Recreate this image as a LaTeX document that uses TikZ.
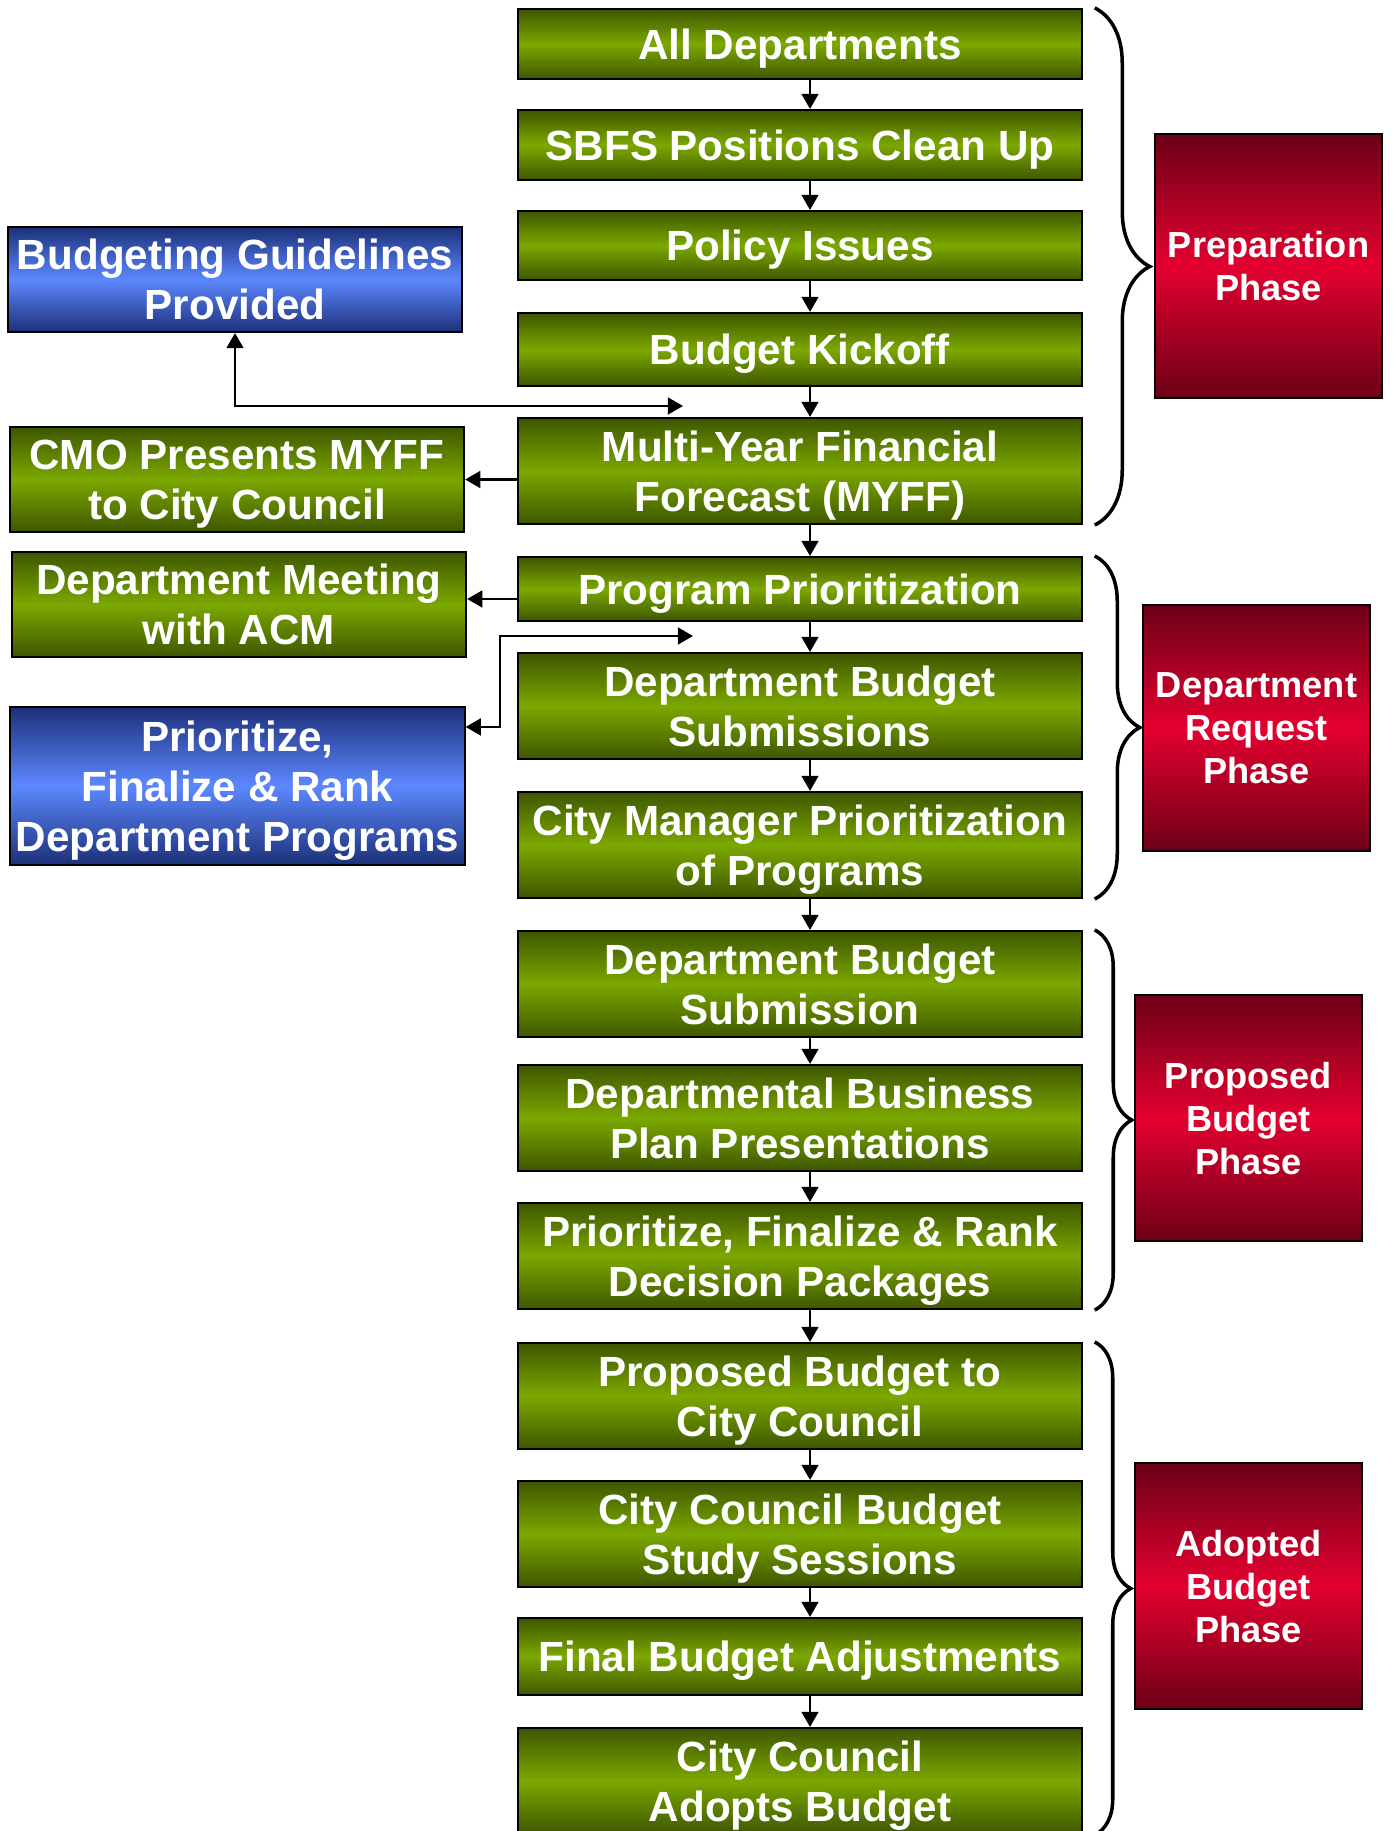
\documentclass[tikz,border=0pt]{standalone}
\usepackage{fontspec}
\setmainfont{Liberation Sans}
\usepackage{tikz}
\usetikzlibrary{arrows.meta, decorations.pathreplacing}

\definecolor{olivedark}{RGB}{62,86,0}
\definecolor{olivemid}{RGB}{124,168,0}
\definecolor{bluedark}{RGB}{28,48,120}
\definecolor{bluemid}{RGB}{92,136,255}
\definecolor{reddark}{RGB}{108,0,22}
\definecolor{redmid}{RGB}{228,0,48}

\begin{document}
\begin{tikzpicture}[x=0.01cm, y=-0.01cm,
    >={Triangle[length=4.3pt,width=4.8pt]},
    box/.style={draw=black, line width=0.6pt, align=center, text=white, inner sep=0pt,
        font=\bfseries\fontsize{12}{14.2}\selectfont, text depth=0pt},
    stage/.style={box, minimum width=5.63cm,
        top color=olivedark, bottom color=olivedark, middle color=olivemid},
    note/.style={box, minimum width=4.54cm,
        top color=bluedark, bottom color=bluedark, middle color=bluemid},
    phase/.style={box, minimum width=2.27cm, font=\bfseries\fontsize{10.3}{12.2}\selectfont,
        top color=reddark, bottom color=reddark, middle color=redmid},
    flow/.style={->, line width=0.6pt},
    both/.style={<->, line width=0.6pt},
    curly/.style={decorate, decoration={brace, amplitude=#1}, line width=1pt}]
    \useasboundingbox (0,0) rectangle (1393,1831);
    \clip (0,0) rectangle (1393,1831);

    % main column
    \node[stage, minimum height=0.70cm] (alldept) at (800,44) {All Departments};
    \node[stage, minimum height=0.70cm] (sbfs) at (800,145) {SBFS Positions Clean Up};
    \node[stage, minimum height=0.69cm] (policy) at (800,245.5) {Policy Issues};
    \node[stage, minimum height=0.73cm] (kickoff) at (800,349.5) {Budget Kickoff};
    \node[stage, minimum height=1.06cm] (myff) at (800,471) {Multi-Year Financial\\Forecast (MYFF)};
    \node[stage, minimum height=0.64cm] (progprio) at (800,589) {Program Prioritization};
    \node[stage, minimum height=1.06cm] (deptsubs) at (800,706) {Department Budget\\Submissions};
    \node[stage, minimum height=1.06cm] (cmprio) at (800,845) {City Manager Prioritization\\of Programs};
    \node[stage, minimum height=1.06cm] (deptsub) at (800,984) {Department Budget\\Submission};
    \node[stage, minimum height=1.06cm] (bizplan) at (800,1118) {Departmental Business\\Plan Presentations};
    \node[stage, minimum height=1.06cm] (decpack) at (800,1256) {Prioritize, Finalize \& Rank\\Decision Packages};
    \node[stage, minimum height=1.06cm] (propbud) at (800,1396) {Proposed Budget to\\City Council};
    \node[stage, minimum height=1.06cm] (study) at (800,1534) {City Council Budget\\Study Sessions};
    \node[stage, minimum height=0.77cm] (finadj) at (800,1656.5) {Final Budget Adjustments};
    \node[stage, minimum height=1.06cm] (adopts) at (800,1781) {City Council\\Adopts Budget};

    \coordinate (spine) at (810,0);
    \foreach \a/\b in {alldept/sbfs, sbfs/policy, policy/kickoff, kickoff/myff, myff/progprio,
        progprio/deptsubs, deptsubs/cmprio, cmprio/deptsub, deptsub/bizplan, bizplan/decpack,
        decpack/propbud, propbud/study, study/finadj, finadj/adopts}
        \draw[flow] (\a.south -| spine) -- (\b.north -| spine);

    % side boxes
    \node[note, minimum height=1.05cm] (guide) at (235,279.5) {Budgeting Guidelines\\Provided};
    \node[stage, minimum width=4.54cm, minimum height=1.05cm] (cmo) at (237,479.5) {CMO Presents MYFF\\to City Council};
    \node[stage, minimum width=4.54cm, minimum height=1.05cm] (meet) at (239,604.5) {Department Meeting\\with ACM};
    \node[note, minimum height=1.58cm] (rankprog) at (237.5,786) {Prioritize,\\Finalize \& Rank\\Department Programs};

    \coordinate (gapA) at (683,406);
    \coordinate (gapB) at (693,636);
    \coordinate (bendB) at (500,636);
    \draw[both] (guide.south) |- (gapA);
    \draw[flow] (myff.west |- cmo.east) -- (cmo.east);
    \draw[flow] ([yshift=-0.1cm]progprio.west) -- ([yshift=-0.1cm]progprio.west -| meet.east);
    \draw[both] ([yshift=0.59cm]rankprog.east) -| (bendB) -- (gapB);

    % phases
    \node[phase, minimum height=2.64cm] (prep) at (1268.5,266) {Preparation\\Phase};
    \node[phase, minimum height=2.46cm] (request) at (1256.5,728) {Department\\Request\\Phase};
    \node[phase, minimum height=2.46cm] (proposed) at (1248.5,1118) {Proposed\\Budget\\Phase};
    \node[phase, minimum height=2.46cm] (adopted) at (1248.5,1586) {Adopted\\Budget\\Phase};

    \draw[curly=0.55cm] ([xshift=0.12cm]alldept.north east) -- ([xshift=0.12cm]myff.south east);
    \draw[curly=0.45cm] ([xshift=0.12cm]progprio.north east) -- ([xshift=0.12cm]cmprio.south east);
    \draw[curly=0.37cm] ([xshift=0.12cm]deptsub.north east) -- ([xshift=0.12cm]decpack.south east);
    \draw[curly=0.36cm] ([xshift=0.12cm]propbud.north east) -- ([xshift=0.12cm]adopts.south east);
\end{tikzpicture}
\end{document}
